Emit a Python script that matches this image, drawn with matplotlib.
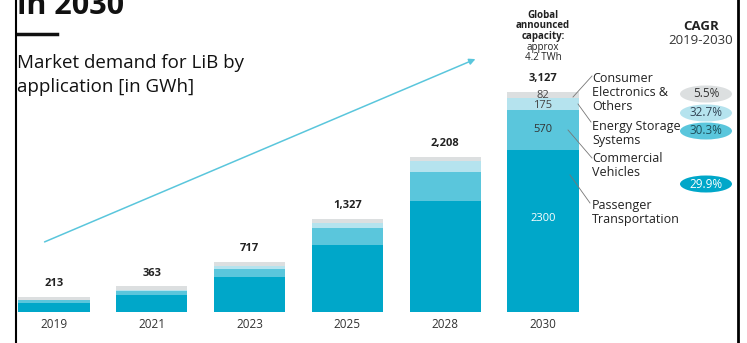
import matplotlib.pyplot as plt
from matplotlib.patches import Ellipse, FancyArrowPatch

W, H = 747, 343

years = ["2019", "2021", "2023", "2025", "2028", "2030"]
totals = ["213", "363", "717", "1,327", "2,208", "3,127"]
passenger = [135, 240, 500, 950, 1580, 2300]
commercial = [30, 60, 115, 245, 415, 570]
energy_storage = [5, 15, 40, 75, 145, 175]
consumer = [43, 48, 62, 57, 68, 82]

segments = ["Passenger\nTransportation", "Commercial\nVehicles",
            "Energy Storage\nSystems", "Consumer\nElectronics &\nOthers"]
cagr = ["29.9%", "30.3%", "32.7%", "5.5%"]
colors = ["#00a7c9", "#5ac6dc", "#b5e3ee", "#dcdfe0"]

plt.rcParams["font.family"] = ["Open Sans", "DejaVu Sans"]

fig = plt.figure(figsize=(W / 100, H / 100), dpi=100)


def px(x, y):
    # pixel coords (top-left origin) -> figure fraction
    return x / W, 1 - y / H


# bar axes: baseline at y=312px, 98px between bars, first bar centred at 54px
step = 97.8
scale = 220 / 3127
base = 312
ax = fig.add_axes([0, 1 - base / H, 1, base / H])
ax.set_xlim(-54 / step, (W - 54) / step)
ax.set_ylim(0, base / scale)
ax.axis("off")

xs = list(range(len(years)))
bottom = [0] * len(years)
for vals, c in zip([passenger, commercial, energy_storage, consumer], colors):
    ax.bar(xs, vals, bottom=bottom, width=0.726, color=c, linewidth=0)
    bottom = [b + v for b, v in zip(bottom, vals)]

for x, t, top in zip(xs, totals, bottom):
    ax.text(x, top + 110, t, ha="center", va="bottom", fontsize=8,
            fontweight="bold", color="#222222")
    ax.text(x, -90, years[x], ha="center", va="top", fontsize=8.5, color="#333333")

# values inside the 2030 bar
i = len(years) - 1
ax.text(i, passenger[i] / 2 + 180, str(passenger[i]), ha="center", va="center",
        fontsize=8, color="white")
y0 = passenger[i]
ax.text(i, y0 + commercial[i] / 2 + 10, str(commercial[i]), ha="center",
        va="center", fontsize=8, color="#333333")
y0 += commercial[i]
ax.text(i, y0 + energy_storage[i] / 2 - 25, str(energy_storage[i]), ha="center",
        va="center", fontsize=8, color="#444444")
y0 += energy_storage[i]
ax.text(i, y0 + consumer[i] / 2 - 10, str(consumer[i]), ha="center",
        va="center", fontsize=8, color="#444444")

# title area
fig.text(*px(17, 14), "in 2030", fontsize=22, fontweight="bold",
         va="baseline", color="#111111")
fig.add_artist(plt.Line2D([18 / W, 57 / W], [1 - 34 / H] * 2, color="#111111", lw=2.5))
fig.text(*px(17, 68), "Market demand for LiB by", fontsize=13.5,
         va="baseline", color="#111111")
fig.text(*px(17, 92), "application [in GWh]", fontsize=13.5,
         va="baseline", color="#111111")

# borders
fig.add_artist(plt.Line2D([15.5 / W] * 2, [0, 1], color="black", lw=1.5))
fig.add_artist(plt.Line2D([738 / W] * 2, [0, 1], color="black", lw=2))

# growth arrow
fig.patches.append(FancyArrowPatch(
    px(42, 243), px(478, 58), transform=fig.transFigure, arrowstyle="-|>",
    mutation_scale=9, color="#5ac6dc", lw=1.1))

# global capacity note
note = [("Global", "bold"), ("announced", "bold"), ("capacity:", "bold"),
        ("approx", "normal"), ("4.2 TWh", "normal")]
for k, (line, w) in enumerate(note):
    fig.text(*px(543, 15 + k * 10.7), line, ha="center", va="center",
             fontsize=7, fontweight=w, color="#222222")

# segment labels with leader lines
label_pos = [(592, 212.5), (592, 165.5), (592, 133.5), (592, 92.5)]
leaders = [((570, 175), (590, 203)), ((568, 130), (592, 158)),
           ((578, 104), (591, 122)), ((573, 97), (592, 76))]
for s, (lx, ly), ((ax0, ay0), (ax1, ay1)) in zip(segments, label_pos, leaders):
    fig.text(*px(lx, ly), s, va="center", fontsize=9, linespacing=1.05,
             color="#222222")
    fig.add_artist(plt.Line2D([ax0 / W, ax1 / W], [1 - ay0 / H, 1 - ay1 / H],
                              color="#777777", lw=0.6))

# CAGR column
fig.text(*px(701, 27), "CAGR", ha="center", va="center", fontsize=9.5,
         fontweight="bold", color="#222222")
fig.text(*px(701, 41), "2019-2030", ha="center", va="center", fontsize=9.5,
         color="#333333")
cagr_y = [184, 131, 113, 94]
cagr_txt = ["white", "#1e4f5c", "#334455", "#333333"]
for val, y, c, tc in zip(cagr, cagr_y, colors, cagr_txt):
    cx, cy = px(706, y)
    fig.patches.append(Ellipse((cx, cy), 52 / W, 17 / H, transform=fig.transFigure,
                               facecolor=c, edgecolor="none"))
    fig.text(cx, cy, val, ha="center", va="center", fontsize=8.5, color=tc)

fig.savefig("out.png", dpi=100)
